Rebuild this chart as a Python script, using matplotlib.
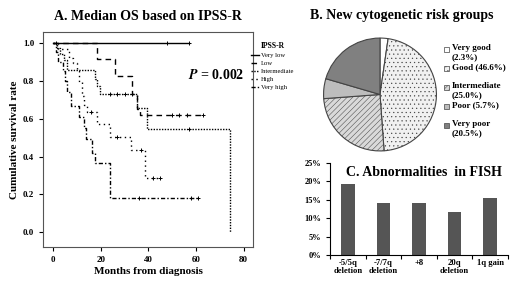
import matplotlib
matplotlib.use('Agg')
import matplotlib.pyplot as plt
from matplotlib.lines import Line2D
from matplotlib.patches import Rectangle

plt.rcParams['font.family'] = ['Liberation Serif', 'DejaVu Serif']
plt.rcParams['font.weight'] = 'bold'
plt.rcParams['mathtext.fontset'] = 'stix'
plt.rcParams['hatch.linewidth'] = 0.35

# A. Kaplan-Meier curves (step times, survival after step, censor times)
groups = ['Very low', 'Low', 'Intermediate', 'High', 'Very high']
t_vlow = [0, 57]
s_vlow = [1.0, 1.0]
c_vlow = [1, 48, 57]

t_low = [0, 18.5, 25.8, 33.0, 35.2, 36.3, 63]
s_low = [1.0, 0.916, 0.826, 0.728, 0.652, 0.618, 0.618]
c_low = [50, 53, 56, 63]

t_int = [0, 1.5, 3.0, 4.5, 6.0, 17.5, 18.5, 19.8, 35.3, 39.5, 74.2, 74.2]
s_int = [1.0, 0.97, 0.94, 0.91, 0.855, 0.81, 0.77, 0.727, 0.655, 0.545, 0.545, 0.0]
c_int = [24, 27, 30, 33, 57]

t_high = [0, 2.0, 6.5, 8.5, 10.0, 11.0, 12.0, 13.0, 14.0, 18.5, 24.0, 32.5, 38.5, 45]
s_high = [1.0, 0.968, 0.92, 0.89, 0.85, 0.79, 0.72, 0.67, 0.632, 0.57, 0.504, 0.433, 0.285, 0.285]
c_high = [16, 27, 37, 42, 45]

t_vhigh = [0, 1.0, 2.0, 4.0, 5.0, 6.0, 7.5, 11.0, 13.0, 13.8, 16.2, 17.5, 24.0, 61]
s_vhigh = [1.0, 0.95, 0.90, 0.85, 0.80, 0.74, 0.668, 0.61, 0.55, 0.49, 0.42, 0.367, 0.182, 0.182]
c_vhigh = [36, 58, 61]

# B. cytogenetic risk groups
risk_labels = ['Very good\n(2.3%)', 'Good (46.6%)', 'Intermediate\n(25.0%)', 'Poor (5.7%)', 'Very poor\n(20.5%)']
risk_pct = [2.3, 46.6, 25.0, 5.7, 20.5]

# C. FISH abnormalities
fish_labels = ['-5/5q\ndeletion', '-7/7q\ndeletion', '+8', '20q\ndeletion', '1q gain']
fish_pct = [19.4, 14.2, 14.2, 11.6, 15.5]

fig = plt.figure(figsize=(5.2, 2.85), dpi=100)

# ---- panel A
ax = fig.add_axes([0.083, 0.133, 0.403, 0.753])
styles = ['-', (0, (4, 3)), (0, (1, 1)), (0, (1, 2.5)), (0, (3, 1.5, 1, 1.5))]
curves = [(t_vlow, s_vlow, c_vlow), (t_low, s_low, c_low), (t_int, s_int, c_int),
          (t_high, s_high, c_high), (t_vhigh, s_vhigh, c_vhigh)]
handles = []
for (t, s, c), ls in zip(curves, styles):
    ax.step(t, s, where='post', color='black', ls=ls, lw=1.0)
    cy = []
    for ct in c:
        idx = max(i for i in range(len(t)) if t[i] <= ct)
        cy.append(s[idx] if s[idx] > 0 else s[idx - 1])
    ax.plot(c, cy, '+', color='black', ms=3, mew=0.7)
    handles.append(Line2D([], [], color='black', ls=ls, lw=1.0))

ax.set_xlim(-4.2, 83.8)
ax.set_ylim(-0.077, 1.053)
ax.set_xticks([0, 20, 40, 60, 80])
ax.set_yticks([0.0, 0.2, 0.4, 0.6, 0.8, 1.0])
ax.set_yticklabels(['0.0', '0.2', '0.4', '0.6', '0.8', '1.0'])
ax.tick_params(labelsize=6.5, length=3, width=0.8)
for sp in ax.spines.values():
    sp.set_color('#555555')
    sp.set_linewidth(0.8)
ax.set_xlabel('Months from diagnosis', fontsize=8, fontweight='bold', labelpad=2)
ax.set_ylabel('Cumulative survival rate', fontsize=8, fontweight='bold', labelpad=3)
ax.set_title('A. Median OS based on IPSS-R', fontsize=10, fontweight='bold', pad=9)
ax.text(0.69, 0.8, '$\\mathbfit{P}$ = 0.002', transform=ax.transAxes,
        fontsize=10, fontweight='bold', ha='left', va='center')
leg = ax.legend(handles, groups, title='IPSS-R', loc='upper left',
                bbox_to_anchor=(0.99, 0.955), frameon=False,
                prop={'size': 4.8, 'weight': 'normal'}, title_fontsize=5.5,
                handlelength=1.3, handletextpad=0.2, labelspacing=0.35,
                borderaxespad=0, borderpad=0)
leg.get_title().set_fontweight('bold')

# ---- panel B
fig.text(0.773, 0.945, 'B. New cytogenetic risk groups', fontsize=10,
         fontweight='bold', ha='center', va='center')
axp = fig.add_axes([(380 - 57) / 520, 1 - (94.5 + 57) / 285, 114 / 520, 114 / 285])
pie_colors = ['white', '#f1f1f1', '#d9d9d9', '#bdbdbd', '#808080']
pie_hatch = ['', '....', '//////', '', '']
wedges, _ = axp.pie(risk_pct, colors=pie_colors, startangle=90, counterclock=False,
                    wedgeprops=dict(edgecolor='#444444', linewidth=0.8))
for w, hch in zip(wedges, pie_hatch):
    w.set_hatch(hch)
axp.set_xlim(-1.01, 1.01)
axp.set_ylim(-1.01, 1.01)
axp.set_aspect('equal')

# legend entries evenly spaced, labels may wrap onto a second line
for i, (lab, col, hch) in enumerate(zip(risk_labels, pie_colors, pie_hatch)):
    yc = 49 + 19 * i
    fig.patches.append(Rectangle((444 / 520, 1 - (yc + 2.5) / 285), 5 / 520, 5 / 285,
                                 transform=fig.transFigure, facecolor=col,
                                 edgecolor='#444444', hatch=hch, linewidth=0.5))
    fig.text(452 / 520, 1 - (yc - 4.5) / 285, lab, fontsize=6.5, fontweight='bold',
             ha='left', va='top', linespacing=1.15)

# ---- panel C
axb = fig.add_axes([330 / 520, 1 - 255 / 285, 178 / 520, 92 / 285])
x = list(range(len(fish_labels)))
axb.bar(x, [v / 100 for v in fish_pct], width=0.38, color='#555555')
axb.set_xlim(-0.5, 4.5)
axb.set_ylim(0, 0.25)
axb.set_yticks([0, 0.05, 0.10, 0.15, 0.20, 0.25])
axb.set_yticklabels(['0%', '5%', '10%', '15%', '20%', '25%'])
axb.set_xticks(x)
axb.set_xticklabels(fish_labels, fontsize=6.2, fontweight='bold', linespacing=1.0)
axb.set_xticks([i + 0.5 for i in range(-1, 5)], minor=True)
axb.tick_params(axis='x', which='major', length=0, pad=3)
axb.tick_params(axis='x', which='minor', length=3, width=0.8)
axb.tick_params(axis='y', labelsize=6, length=3, width=0.8)
axb.spines['top'].set_visible(False)
axb.spines['right'].set_visible(False)
for sp in ['left', 'bottom']:
    axb.spines[sp].set_linewidth(0.8)
axb.text(0.53, 0.9, 'C. Abnormalities  in FISH', transform=axb.transAxes,
         fontsize=10, fontweight='bold', ha='center', va='center')

fig.savefig('out.png', dpi=100)
